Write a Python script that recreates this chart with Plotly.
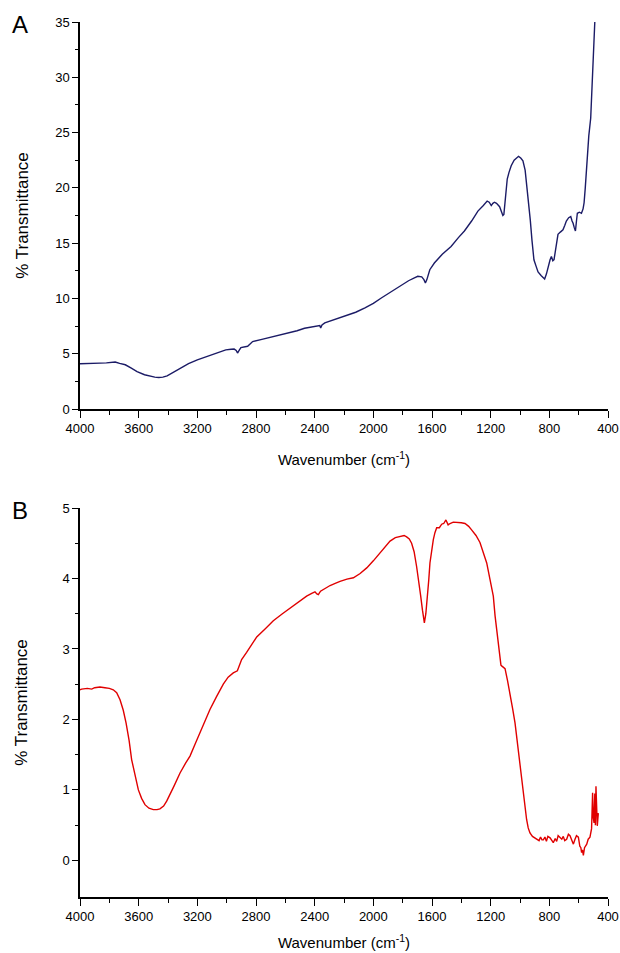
import plotly.graph_objects as go

# ---- Panel A data (wavenumber cm-1, % transmittance) ----
wn_a = [4000, 3950, 3900, 3863, 3820, 3790, 3760, 3730, 3691, 3650, 3611, 3560, 3520, 3490, 3463,
        3435, 3406, 3360, 3314, 3260, 3200, 3150, 3109, 3060, 3006, 2970, 2949, 2935, 2926, 2915,
        2903, 2857, 2840, 2823, 2760, 2697, 2640, 2583, 2520, 2469, 2420, 2377, 2365, 2359, 2350,
        2331, 2260, 2194, 2120, 2057, 2000, 1943, 1880, 1806, 1760, 1720, 1697, 1670, 1655, 1645,
        1635, 1615, 1584, 1530, 1470, 1420, 1379, 1330, 1287, 1250, 1224, 1210, 1196, 1185, 1174,
        1160, 1139, 1125, 1117, 1110, 1101, 1087, 1075, 1060, 1040, 1020, 1010, 995, 980, 965,
        953, 940, 930, 918, 905, 890, 877, 855, 832, 820, 809, 795, 786, 776, 768,
        755, 741, 725, 707, 695, 684, 668, 654, 645, 638, 630, 622, 615, 609, 595,
        581, 570, 563, 555, 547, 539, 531, 518, 510, 502, 496, 490]
t_a = [4.09, 4.10, 4.08, 4.15, 4.17, 4.22, 4.25, 4.12, 4.00, 3.70, 3.39, 3.10, 2.94, 2.88, 2.85,
       2.88, 3.00, 3.35, 3.75, 4.10, 4.45, 4.70, 4.90, 5.12, 5.35, 5.40, 5.42, 5.30, 5.06, 5.30,
       5.55, 5.67, 5.90, 6.10, 6.30, 6.50, 6.68, 6.88, 7.08, 7.30, 7.45, 7.58, 7.55, 7.33, 7.60,
       7.79, 8.10, 8.39, 8.75, 9.15, 9.55, 10.06, 10.60, 11.27, 11.60, 11.85, 12.00, 11.95, 11.70, 11.40,
       11.70, 12.60, 13.20, 14.00, 14.70, 15.50, 16.10, 17.00, 17.90, 18.40, 18.80, 18.70, 18.40, 18.60, 18.70,
       18.60, 18.30, 17.80, 17.50, 17.60, 18.90, 20.80, 21.40, 22.00, 22.50, 22.80, 22.85, 22.70, 22.45, 21.60,
       20.20, 18.60, 17.10, 15.20, 13.50, 12.90, 12.40, 12.05, 11.76, 12.20, 12.90, 13.50, 13.80, 13.40, 13.50,
       14.60, 15.80, 16.00, 16.20, 16.60, 17.00, 17.30, 17.40, 17.00, 16.80, 16.40, 16.10, 17.00, 17.70, 17.80,
       17.70, 18.10, 18.65, 20.00, 21.70, 23.20, 24.70, 26.30, 28.50, 31.00, 33.00, 35.00]

# ---- Panel B data ----
wn_b = [4000, 3989, 3950, 3920, 3900, 3864, 3830, 3800, 3773, 3750, 3727, 3705, 3686, 3665, 3648,
        3625, 3602, 3580, 3557, 3530, 3500, 3475, 3455, 3430, 3409, 3360, 3318, 3280, 3250, 3215,
        3182, 3150, 3114, 3070, 3023, 2990, 2955, 2927, 2909, 2898, 2864, 2830, 2795, 2740, 2682,
        2620, 2568, 2500, 2455, 2420, 2398, 2385, 2375, 2360, 2330, 2295, 2260, 2227, 2180, 2136,
        2090, 2045, 2000, 1955, 1920, 1886, 1850, 1818, 1790, 1773, 1755, 1739, 1722, 1705, 1690,
        1677, 1665, 1652, 1642, 1632, 1622, 1614, 1602, 1591, 1580, 1568, 1550, 1534, 1520, 1505,
        1490, 1477, 1455, 1432, 1400, 1375, 1350, 1330, 1300, 1273, 1250, 1227, 1205, 1182, 1170,
        1155, 1141, 1130, 1125, 1110, 1102, 1085, 1068, 1050, 1034, 1020, 1005, 990, 977, 965,
        955, 944, 932, 915, 900, 886, 870, 860, 850, 841, 830, 820, 810, 795, 785,
        773, 760, 750, 740, 727, 715, 705, 695, 682, 670, 659, 648, 636, 625, 615,
        602, 592, 585, 580, 574, 568, 560, 552, 545, 535, 523, 512, 505, 500, 495,
        490, 486, 482, 478, 473, 466]
t_b = [2.42, 2.43, 2.44, 2.43, 2.45, 2.46, 2.45, 2.44, 2.42, 2.38, 2.28, 2.13, 1.95, 1.70, 1.43,
       1.20, 1.00, 0.88, 0.79, 0.74, 0.72, 0.72, 0.73, 0.77, 0.84, 1.05, 1.24, 1.38, 1.48, 1.65,
       1.81, 1.98, 2.14, 2.32, 2.50, 2.60, 2.66, 2.69, 2.78, 2.85, 2.95, 3.06, 3.17, 3.28, 3.40,
       3.50, 3.58, 3.69, 3.75, 3.79, 3.81, 3.78, 3.77, 3.82, 3.86, 3.90, 3.93, 3.96, 3.99, 4.01,
       4.07, 4.15, 4.25, 4.36, 4.45, 4.53, 4.58, 4.60, 4.61, 4.59, 4.56, 4.50, 4.38, 4.17, 3.98,
       3.75, 3.55, 3.37, 3.50, 3.70, 3.98, 4.22, 4.42, 4.55, 4.65, 4.72, 4.72, 4.77, 4.78, 4.83,
       4.76, 4.78, 4.80, 4.80, 4.79, 4.78, 4.74, 4.69, 4.61, 4.51, 4.35, 4.22, 3.99, 3.75, 3.47,
       3.20, 2.90, 2.77, 2.76, 2.74, 2.72, 2.55, 2.38, 2.15, 1.95, 1.70, 1.43, 1.20, 0.96, 0.75,
       0.58, 0.46, 0.39, 0.34, 0.32, 0.31, 0.28, 0.33, 0.29, 0.29, 0.33, 0.27, 0.34, 0.32, 0.29,
       0.25, 0.31, 0.27, 0.35, 0.33, 0.30, 0.34, 0.28, 0.30, 0.37, 0.35, 0.28, 0.23, 0.30, 0.35,
       0.33, 0.20, 0.18, 0.11, 0.15, 0.07, 0.18, 0.20, 0.23, 0.30, 0.33, 0.45, 0.96, 0.60, 0.53,
       0.95, 0.50, 1.05, 0.55, 0.49, 0.67]

x_ticks = [4000, 3600, 3200, 2800, 2400, 2000, 1600, 1200, 800, 400]
x_ticklabels = [str(v) for v in x_ticks]
ya_ticks = [0, 5, 10, 15, 20, 25, 30, 35]
yb_ticks = [0, 1, 2, 3, 4, 5]

W, H = 620, 953
def fx(px): return px / W
def fy(py): return 1 - py / H

FONT = "Liberation Sans, Arial, sans-serif"

fig = go.Figure()
fig.add_trace(go.Scatter(x=wn_a, y=t_a, mode="lines", xaxis="x", yaxis="y",
                         line=dict(color="#1b1b66", width=1.4), showlegend=False))
fig.add_trace(go.Scatter(x=wn_b, y=t_b, mode="lines", xaxis="x2", yaxis="y2",
                         line=dict(color="#e00000", width=1.4), showlegend=False))

xcommon = dict(range=[4000, 400], tickmode="array", tickvals=x_ticks, ticktext=x_ticklabels,
               ticks="outside", ticklen=7, tickwidth=1.2, tickcolor="black", automargin=False,
               showline=True, linecolor="black", linewidth=1.5, showgrid=False, zeroline=False,
               tickfont=dict(family=FONT, size=13, color="black"),
               minor=dict(dtick=200, ticks="outside", ticklen=4, tickwidth=1.2, tickcolor="black"),
               domain=[fx(80), fx(608)])
ycommon = dict(ticks="outside", ticklen=6, tickwidth=1.2, tickcolor="black", automargin=False,
               showline=True, linecolor="black", linewidth=1.5, showgrid=False, zeroline=False,
               tickfont=dict(family=FONT, size=13, color="black"))

fig.update_layout(
    width=W, height=H, margin=dict(l=0, r=0, t=0, b=0),
    paper_bgcolor="white", plot_bgcolor="white",
    xaxis=dict(**xcommon, anchor="y",
               title=dict(text="Wavenumber (cm<sup>-1</sup>)", standoff=19,
                          font=dict(family=FONT, size=15, color="black"))),
    yaxis=dict(**ycommon, range=[0, 35], tickvals=ya_ticks, domain=[fy(409), fy(22)], anchor="x",
               minor=dict(dtick=2.5, ticks="outside", ticklen=3, tickwidth=1.2, tickcolor="black"),
               title=dict(text="% Transmittance", standoff=22,
                          font=dict(family=FONT, size=17, color="black"))),
    xaxis2=dict(**xcommon, anchor="y2",
                title=dict(text="Wavenumber (cm<sup>-1</sup>)", standoff=14,
                           font=dict(family=FONT, size=15, color="black"))),
    yaxis2=dict(**ycommon, range=[-0.52, 5], tickvals=yb_ticks, domain=[fy(897), fy(508)], anchor="x2",
                minor=dict(tickvals=[0.5, 1.5, 2.5, 3.5, 4.5], ticks="outside", ticklen=3,
                           tickwidth=1.2, tickcolor="black"),
                title=dict(text="% Transmittance", standoff=30,
                           font=dict(family=FONT, size=17, color="black"))),
    annotations=[
        dict(text="A", x=fx(20), y=fy(24), xref="paper", yref="paper", showarrow=False,
             font=dict(family=FONT, size=24, color="black"), xanchor="center", yanchor="middle"),
        dict(text="B", x=fx(20), y=fy(510), xref="paper", yref="paper", showarrow=False,
             font=dict(family=FONT, size=24, color="black"), xanchor="center", yanchor="middle"),
    ],
)

fig.write_html("out.html")
